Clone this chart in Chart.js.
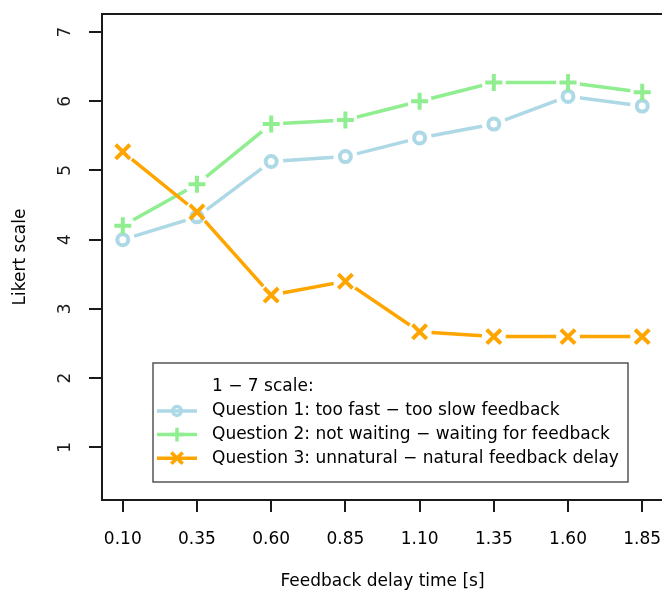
<!DOCTYPE html>
<html>
<head>
<meta charset="utf-8">
<script src="https://cdn.jsdelivr.net/npm/chart.js@4/dist/chart.umd.min.js"></script>
<style>
  html, body { margin: 0; padding: 0; overflow: hidden; background: #fff; }
  #wrap { width: 700px; height: 595px; }
</style>
</head>
<body>
<div id="wrap"><canvas id="chart" width="700" height="595"></canvas></div>
<script>
// feedback delay times (x) and mean Likert answers per question
const DELAYS = [0.10, 0.35, 0.60, 0.85, 1.10, 1.35, 1.60, 1.85];
const Q1_VALUES = [4.00, 4.33, 5.13, 5.20, 5.47, 5.67, 6.07, 5.93];
const Q2_VALUES = [4.20, 4.80, 5.67, 5.73, 6.00, 6.27, 6.27, 6.13];
const Q3_VALUES = [5.27, 4.40, 3.20, 3.40, 2.67, 2.60, 2.60, 2.60];
const Y_TICKS = [1, 2, 3, 4, 5, 6, 7];

const LEGEND_TITLE = '1 \u2212 7 scale:';
const LABELS = [
  'Question 1: too fast \u2212 too slow feedback',
  'Question 2: not waiting \u2212 waiting for feedback',
  'Question 3: unnatural \u2212 natural feedback delay',
];

const FONT = '"DejaVu Sans", sans-serif';
const INK = '#1a1a1a';

const STYLES = [
  { color: '#add8e6', pointStyle: 'circle', radius: 5.5 },
  { color: '#90ee90', pointStyle: 'cross', radius: 8.5 },
  { color: '#ffa500', pointStyle: 'crossRot', radius: 10 },
];

const toPoints = vals => vals.map((v, i) => ({ x: DELAYS[i], y: v }));

// R type="b": leave a gap in each line around its own points
const GAP = 12;
const gapPlugin = {
  id: 'gaps',
  beforeDatasetDraw(chart, args) {
    const ctx = chart.ctx;
    ctx.save();
    ctx.beginPath();
    ctx.rect(0, 0, chart.width, chart.height);
    args.meta.data.forEach(p => {
      ctx.moveTo(p.x + GAP, p.y);
      ctx.arc(p.x, p.y, GAP, 0, Math.PI * 2, true);
    });
    ctx.clip('evenodd');
  },
  afterDatasetDraw(chart, args) {
    chart.ctx.restore();
    args.meta.data.forEach(p => p.draw(chart.ctx, chart.chartArea));
  },
};

const framePlugin = {
  id: 'frame',
  afterDraw(chart) {
    const { ctx, chartArea: a } = chart;
    ctx.save();
    // plot box
    ctx.strokeStyle = INK;
    ctx.lineWidth = 2;
    ctx.strokeRect(a.left, a.top, a.right - a.left, a.bottom - a.top);

    // rotated y tick labels, as R draws them
    const ys = chart.scales.y;
    ctx.fillStyle = INK;
    ctx.font = '17px ' + FONT;
    ctx.textAlign = 'center';
    ctx.textBaseline = 'middle';
    ys.ticks.forEach(t => {
      ctx.save();
      ctx.translate(66, ys.getPixelForValue(t.value));
      ctx.rotate(-Math.PI / 2);
      ctx.fillText(String(t.value), 0, 0);
      ctx.restore();
    });

    // legend box
    const bx = 153, by = 363, bw = 475, bh = 119;
    ctx.fillStyle = '#fff';
    ctx.fillRect(bx, by, bw, bh);
    ctx.strokeStyle = '#555';
    ctx.lineWidth = 1.5;
    ctx.strokeRect(bx, by, bw, bh);

    ctx.fillStyle = '#000';
    ctx.textAlign = 'left';
    ctx.fillText(LEGEND_TITLE, 212, 387);
    LABELS.forEach((label, i) => {
      const y = 411 + i * 23.6;
      const s = STYLES[i];
      ctx.strokeStyle = s.color;
      ctx.lineWidth = 3.5;
      ctx.beginPath();
      ctx.moveTo(157, y);
      ctx.lineTo(197, y);
      ctx.stroke();
      ctx.fillStyle = 'rgba(0,0,0,0)';
      Chart.helpers.drawPoint(ctx, {
        pointStyle: s.pointStyle, radius: s.radius * 0.8, borderWidth: 3.5, rotation: 0,
      }, 177, y);
      ctx.fillStyle = '#000';
      ctx.fillText(label, 212, y);
    });
    ctx.restore();
  },
};

const datasets = [Q1_VALUES, Q2_VALUES, Q3_VALUES].map((vals, i) => ({
  label: LABELS[i],
  data: toPoints(vals),
  borderColor: STYLES[i].color,
  backgroundColor: 'rgba(0,0,0,0)',
  borderWidth: 3.5,
  borderCapStyle: 'round',
  tension: 0,
  pointStyle: STYLES[i].pointStyle,
  pointRadius: STYLES[i].radius,
  pointBorderWidth: 4,
  pointBorderColor: STYLES[i].color,
  pointBackgroundColor: 'rgba(0,0,0,0)',
  order: 3 - i,
}));

new Chart(document.getElementById('chart'), {
  type: 'line',
  data: { datasets },
  plugins: [gapPlugin, framePlugin],
  options: {
    responsive: false,
    animation: false,
    events: [],
    layout: { padding: { top: 9, right: 37, left: 0, bottom: 0 } },
    plugins: { legend: { display: false }, tooltip: { enabled: false } },
    scales: {
      x: {
        type: 'linear',
        min: 0.03,
        max: 1.92,
        afterBuildTicks: s => { s.ticks = DELAYS.map(v => ({ value: v })); },
        afterFit: s => { s.height = 95; },
        border: { display: false },
        grid: { drawOnChartArea: false, color: INK, lineWidth: 2, tickLength: 12 },
        ticks: {
          autoSkip: false, maxRotation: 0, padding: 17, color: '#000',
          font: { family: FONT, size: 17 },
          callback: v => v.toFixed(2),
        },
        title: {
          display: true, text: 'Feedback delay time [s]', color: '#000',
          font: { family: FONT, size: 17 }, padding: { top: 0, bottom: 3 },
        },
      },
      y: {
        type: 'linear',
        min: 0.24,
        max: 7.26,
        afterBuildTicks: s => { s.ticks = Y_TICKS.map(v => ({ value: v })); },
        afterFit: s => { s.width = 102; },
        border: { display: false },
        grid: { drawOnChartArea: false, color: INK, lineWidth: 2, tickLength: 13 },
        ticks: { display: false },
        title: {
          display: true, text: 'Likert scale', color: '#000',
          font: { family: FONT, size: 17 }, padding: { top: 10, bottom: 0 },
        },
      },
    },
  },
});
</script>
</body>
</html>
